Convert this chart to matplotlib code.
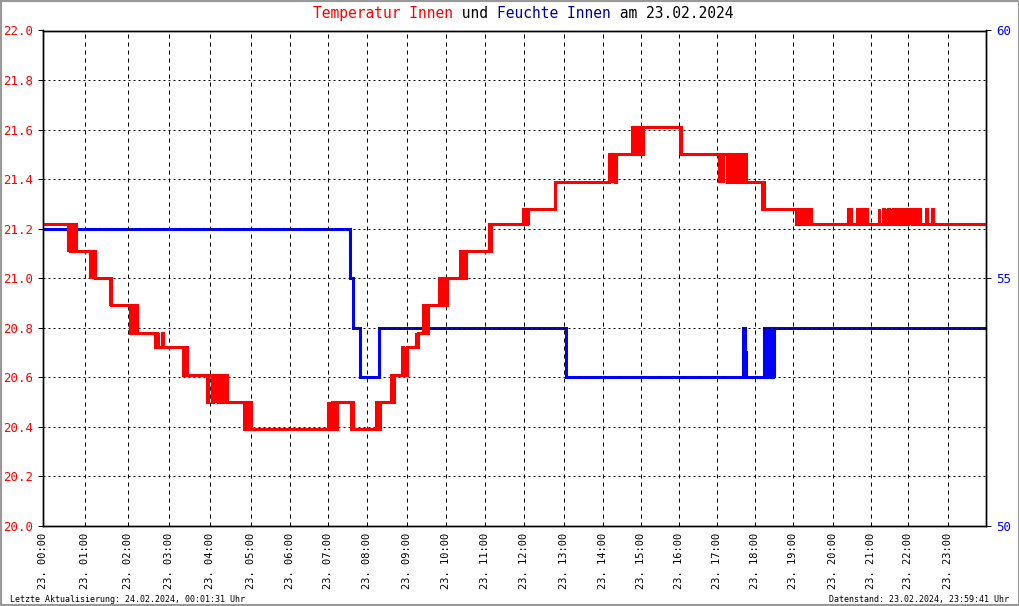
"""Temperatur und Feuchte Innen, Tagesverlauf 23.02.2024."""
import matplotlib
matplotlib.use("Agg")
import matplotlib.pyplot as plt
import matplotlib.transforms as mtransforms
from matplotlib.patches import Rectangle
import numpy as np

DATUM = "23.02.2024"
AKTUALISIERT = "Letzte Aktualisierung: 24.02.2024, 00:01:31 Uhr"
DATENSTAND = "Datenstand: 23.02.2024, 23:59:41 Uhr"
TITEL_TEILE = [
    ("Temperatur Innen", "#ff0000"),
    (" und ", "black"),
    ("Feuchte Innen", "#000099"),
    (" am " + DATUM, "black"),
]

# Anzahl Messungen je Stunde (x-Achse laeuft ueber Messpunkte, nicht linear in der Zeit)
messungen_pro_stunde = [63, 65, 61, 62, 61, 59, 57, 59, 59, 59, 59, 59,
                        59, 59, 57, 57, 58, 57, 57, 59, 57, 57, 59, 57]
stunden_labels = [f"{DATUM[:2]}. {h:02d}:00" for h in range(24)]

temp_ticks = [20.0, 20.2, 20.4, 20.6, 20.8, 21.0, 21.2, 21.4, 21.6, 21.8, 22.0]
feuchte_ticks = [50, 55, 60]

# (Uhrzeit, Wert) - Aenderungspunkte, Stufenverlauf
temp_innen = [
    ("00:00", 21.22),
    ("00:35", 21.11), ("00:36", 21.22), ("00:38", 21.11), ("00:41", 21.22), ("00:42", 21.11),
    ("00:45", 21.22), ("00:47", 21.11),
    ("01:06", 21.00), ("01:07", 21.11), ("01:09", 21.00), ("01:10", 21.11), ("01:13", 21.00),
    ("01:34", 20.89), ("01:35", 21.00), ("01:36", 20.89),
    ("02:02", 20.78), ("02:03", 20.89), ("02:05", 20.78), ("02:06", 20.89), ("02:08", 20.78),
    ("02:10", 20.89), ("02:12", 20.78),
    ("02:39", 20.72), ("02:40", 20.78), ("02:42", 20.72), ("02:43", 20.78), ("02:44", 20.72),
    ("02:49", 20.78), ("02:51", 20.72),
    ("03:20", 20.61), ("03:21", 20.72), ("03:23", 20.61), ("03:24", 20.72), ("03:26", 20.61),
    ("03:55", 20.50), ("03:57", 20.61), ("04:03", 20.50), ("04:04", 20.61), ("04:08", 20.50),
    ("04:09", 20.61), ("04:12", 20.50), ("04:14", 20.61), ("04:17", 20.50), ("04:22", 20.61),
    ("04:24", 20.50),
    ("04:50", 20.39), ("04:51", 20.50), ("04:53", 20.39), ("04:54", 20.50), ("04:57", 20.39),
    ("04:58", 20.50), ("05:00", 20.39),
    ("06:59", 20.50), ("07:00", 20.39), ("07:01", 20.50), ("07:02", 20.39), ("07:04", 20.50),
    ("07:05", 20.39), ("07:06", 20.50), ("07:08", 20.39), ("07:09", 20.50), ("07:11", 20.39),
    ("07:13", 20.50),
    ("07:35", 20.39), ("07:36", 20.50), ("07:38", 20.39),
    ("08:13", 20.50), ("08:14", 20.39), ("08:16", 20.50), ("08:17", 20.39), ("08:19", 20.50),
    ("08:36", 20.61), ("08:38", 20.50), ("08:40", 20.61),
    ("08:53", 20.72), ("08:55", 20.61), ("08:57", 20.72), ("08:58", 20.61), ("09:00", 20.72),
    ("09:14", 20.78), ("09:15", 20.72), ("09:18", 20.78),
    ("09:25", 20.89), ("09:26", 20.78), ("09:28", 20.89), ("09:29", 20.78), ("09:32", 20.89),
    ("09:50", 21.00), ("09:51", 20.89), ("09:53", 21.00), ("09:57", 20.89), ("09:59", 21.00),
    ("10:00", 20.89), ("10:01", 21.00),
    ("10:22", 21.11), ("10:23", 21.00), ("10:25", 21.11), ("10:26", 21.00), ("10:28", 21.11),
    ("10:29", 21.00), ("10:31", 21.11),
    ("11:06", 21.22), ("11:07", 21.11), ("11:09", 21.22),
    ("11:58", 21.28), ("11:59", 21.22), ("12:01", 21.28), ("12:02", 21.22), ("12:04", 21.28),
    ("12:05", 21.22), ("12:06", 21.28),
    ("12:47", 21.39),
    ("14:10", 21.50), ("14:12", 21.39), ("14:13", 21.50), ("14:15", 21.39), ("14:16", 21.50),
    ("14:19", 21.39), ("14:20", 21.50),
    ("14:46", 21.61), ("14:47", 21.50), ("14:48", 21.61), ("14:49", 21.50), ("14:51", 21.61),
    ("14:52", 21.50), ("14:54", 21.61), ("14:55", 21.50), ("14:57", 21.61), ("15:00", 21.50),
    ("15:01", 21.61), ("15:02", 21.50), ("15:04", 21.61),
    ("16:01", 21.50), ("16:02", 21.61), ("16:04", 21.50),
    ("17:02", 21.39), ("17:03", 21.50), ("17:05", 21.39), ("17:06", 21.50), ("17:08", 21.39),
    ("17:09", 21.50), ("17:15", 21.39), ("17:16", 21.50), ("17:18", 21.39), ("17:19", 21.50),
    ("17:21", 21.39), ("17:22", 21.50), ("17:24", 21.39), ("17:30", 21.50), ("17:31", 21.39),
    ("17:33", 21.50), ("17:34", 21.39), ("17:36", 21.50), ("17:38", 21.39), ("17:39", 21.50),
    ("17:41", 21.39), ("17:43", 21.50), ("17:45", 21.39),
    ("18:11", 21.28), ("18:12", 21.39), ("18:14", 21.28),
    ("19:04", 21.22), ("19:05", 21.28), ("19:07", 21.22), ("19:08", 21.28), ("19:10", 21.22),
    ("19:12", 21.28), ("19:13", 21.22), ("19:15", 21.28), ("19:17", 21.22), ("19:19", 21.28),
    ("19:21", 21.22), ("19:23", 21.28), ("19:24", 21.22), ("19:26", 21.28), ("19:27", 21.22),
    ("20:25", 21.28), ("20:26", 21.22), ("20:28", 21.28), ("20:29", 21.22),
    ("20:39", 21.28), ("20:41", 21.22), ("20:43", 21.28), ("20:45", 21.22), ("20:46", 21.28),
    ("20:48", 21.22), ("20:50", 21.28), ("20:52", 21.22), ("20:53", 21.28), ("20:55", 21.22),
    ("21:13", 21.28), ("21:14", 21.22), ("21:19", 21.28), ("21:21", 21.22), ("21:24", 21.28),
    ("21:25", 21.22), ("21:27", 21.28), ("21:29", 21.22), ("21:30", 21.28), ("21:31", 21.22),
    ("21:35", 21.28), ("21:37", 21.22), ("21:40", 21.28), ("21:42", 21.22), ("21:45", 21.28),
    ("21:47", 21.22), ("21:49", 21.28), ("21:51", 21.22), ("21:55", 21.28), ("21:57", 21.22),
    ("21:59", 21.28), ("22:02", 21.22), ("22:03", 21.28), ("22:06", 21.22), ("22:08", 21.28),
    ("22:10", 21.22), ("22:13", 21.28), ("22:14", 21.22), ("22:15", 21.28), ("22:17", 21.22),
    ("22:27", 21.28), ("22:29", 21.22), ("22:36", 21.28), ("22:38", 21.22),
    ("23:59:41", 21.22),
]

feuchte_innen = [
    ("00:00", 56), ("07:33", 55), ("07:38", 54), ("07:49", 53), ("08:18", 54),
    ("13:04", 53), ("17:41", 54), ("17:43", 53.5), ("17:45", 53),
    ("18:14", 54), ("18:15", 53), ("18:16", 54), ("18:17", 53), ("18:18", 54),
    ("18:19", 53), ("18:20", 54), ("18:21", 53), ("18:22", 54), ("18:23", 53),
    ("18:24", 54), ("18:25", 53), ("18:26", 54), ("18:27", 53), ("18:28", 54),
    ("18:29", 53), ("18:30", 54),
    ("23:59:41", 54),
]


def zeit_in_stunden(s):
    teile = [int(t) for t in s.split(":")]
    teile += [0] * (3 - len(teile))
    return teile[0] + teile[1] / 60 + teile[2] / 3600


def reihe(daten):
    x = np.array([zeit_in_stunden(t) for t, _ in daten])
    y = np.array([w for _, w in daten], dtype=float)
    return x, y


plt.rcParams["font.family"] = "DejaVu Sans Mono"
PX = 72 / 100  # ein Pixel in Punkt

fig = plt.figure(figsize=(10.2, 6.06), dpi=100)
ax = fig.add_axes([43.3 / 1020, 1 - 525.7 / 606, (985.7 - 43.3) / 1020, (525.7 - 30.5) / 606])

# x-Achse: Stunden auf Messpunkte abbilden
kanten = np.arange(25)
kum = np.concatenate([[0], np.cumsum(messungen_pro_stunde)])
ax.set_xscale("function", functions=(lambda x: np.interp(x, kanten, kum),
                                     lambda i: np.interp(i, kum, kanten)))
ax2 = ax.twinx()

xf, yf = reihe(feuchte_innen)
ax2.step(xf, yf, where="post", color="#0000ff", lw=2.2, solid_joinstyle="miter")
xt, yt = reihe(temp_innen)
ax.step(xt, yt, where="post", color="#ff0000", lw=2.2, solid_joinstyle="miter")

ax.set_zorder(ax2.get_zorder() + 1)
ax.patch.set_visible(False)

ax.set_xlim(0, 24)
ax.set_ylim(20.0, 22.0)
ax2.set_ylim(50, 60)

ax.set_xticks(range(24))
ax.set_xticklabels(stunden_labels, rotation=90, fontsize=7.5)
ax.tick_params(axis="x", length=0, pad=5)
ax.set_yticks(temp_ticks)
ax.set_yticklabels([f"{v:.1f}" for v in temp_ticks])
ax.tick_params(axis="y", direction="out", length=5 * PX, width=1 * PX, pad=4,
               labelcolor="#ff0000", labelsize=9)
ax2.set_yticks(feuchte_ticks)
ax2.tick_params(axis="y", direction="out", length=5 * PX, width=1 * PX, pad=4,
                labelcolor="#0000ff", labelsize=9)

ax.grid(axis="x", color="black", lw=PX, linestyle=(0, (4, 4)))
ax.grid(axis="y", color="black", lw=PX, linestyle=(0, (2, 3)))
for a in (ax, ax2):
    for sp in a.spines.values():
        sp.set_linewidth(1.0)
        sp.set_color("black")

# Titel in mehreren Farben (Monospace: Versatz per Zeichenbreite)
titel_size = 10.5
zeichen_pt = titel_size * 0.602
pos = 0
for text, farbe in TITEL_TEILE:
    trans = mtransforms.offset_copy(fig.transFigure, fig=fig, x=pos * zeichen_pt, y=0, units="points")
    fig.text(313 / 1020, 1 - 13.5 / 606, text, color=farbe, fontsize=titel_size,
             ha="left", va="center", transform=trans)
    pos += len(text)

fig.text(10 / 1020, 1 - 599.5 / 606, AKTUALISIERT, fontsize=6, ha="left", va="center")
fig.text(1009 / 1020, 1 - 599.5 / 606, DATENSTAND, fontsize=6, ha="right", va="center")

fig.patches.append(Rectangle((0, 0), 1, 1, transform=fig.transFigure, fill=False,
                             edgecolor="#999999", lw=3.0, zorder=10))

fig.savefig("out.png", dpi=100, facecolor="white")
